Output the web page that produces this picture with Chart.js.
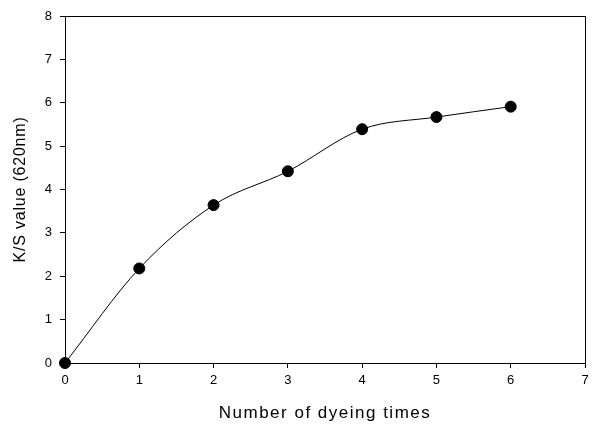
<!DOCTYPE html>
<html>
<head>
<meta charset="utf-8">
<script src="https://cdn.jsdelivr.net/npm/chart.js@4/dist/chart.umd.min.js"></script>
<style>
html,body{margin:0;padding:0;background:#fff;}
#wrap{width:595px;height:424px;}
</style>
</head>
<body>
<div id="wrap"><canvas id="c" width="595" height="424"></canvas></div>
<script>
const dyeingTimes = [0, 1, 2, 3, 4, 5, 6];
const ksValues = [0, 2.18, 3.64, 4.42, 5.39, 5.67, 5.91];
const xTicks = [0, 1, 2, 3, 4, 5, 6, 7];
const yTicks = [0, 1, 2, 3, 4, 5, 6, 7, 8];

const boxPlugin = {
  id: 'box',
  afterDraw(chart) {
    const {ctx, chartArea: a} = chart;
    ctx.save();
    ctx.strokeStyle = '#000';
    ctx.lineWidth = 1;
    ctx.strokeRect(Math.round(a.left) + 0.5, Math.round(a.top) + 0.5, Math.round(a.right - a.left), Math.round(a.bottom - a.top));
    ctx.restore();
  }
};

function spacedTitle(spacing) {
  return function(s) {
    if (s._spacedTitle) return;
    s._spacedTitle = true;
    const orig = s.drawTitle;
    s.drawTitle = function() {
      const ctx = this.ctx;
      ctx.save();
      ctx.letterSpacing = spacing;
      orig.call(this);
      ctx.restore();
    };
  };
}

new Chart(document.getElementById('c'), {
  type: 'line',
  data: {
    datasets: [{
      data: dyeingTimes.map((x, i) => ({x: x, y: ksValues[i]})),
      borderColor: '#000',
      borderWidth: 1,
      backgroundColor: '#000',
      pointBackgroundColor: '#000',
      pointBorderColor: '#000',
      pointRadius: 5.5,
      pointHoverRadius: 5.5,
      cubicInterpolationMode: 'monotone',
      clip: false,
      fill: false
    }]
  },
  options: {
    responsive: false,
    animation: false,
    devicePixelRatio: 1,
    layout: {padding: {left: 0, right: 10, top: 16, bottom: 0}},
    plugins: {legend: {display: false}, tooltip: {enabled: false}},
    scales: {
      x: {
        type: 'linear',
        min: 0, max: 7,
        afterBuildTicks(s) { s.ticks = xTicks.map(v => ({value: v})); },
        afterFit(s) { s.height = 61; spacedTitle('1.5px')(s); },
        grid: {display: true, drawOnChartArea: false, drawTicks: true, tickLength: 5, color: '#000', tickColor: '#000'},
        border: {display: true, color: '#000', width: 1},
        ticks: {color: '#000', font: {family: 'Liberation Sans, Arial', size: 13}, padding: 5, maxRotation: 0},
        title: {display: true, text: 'Number of dyeing times', color: '#000', font: {family: 'Liberation Sans, Arial', size: 17}, padding: {top: 0, bottom: 0}}
      },
      y: {
        type: 'linear',
        min: 0, max: 8,
        afterBuildTicks(s) { s.ticks = yTicks.map(v => ({value: v})); },
        afterFit(s) { s.width = 65; spacedTitle('0.8px')(s); },
        grid: {display: true, drawOnChartArea: false, drawTicks: true, tickLength: 5, color: '#000', tickColor: '#000'},
        border: {display: true, color: '#000', width: 1},
        ticks: {color: '#000', font: {family: 'Liberation Sans, Arial', size: 13}, padding: 8},
        title: {display: true, text: 'K/S value (620nm)', color: '#000', font: {family: 'Liberation Sans, Arial', size: 16}, padding: {top: 11, bottom: 0}}
      }
    }
  },
  plugins: [boxPlugin]
});
</script>
</body>
</html>
